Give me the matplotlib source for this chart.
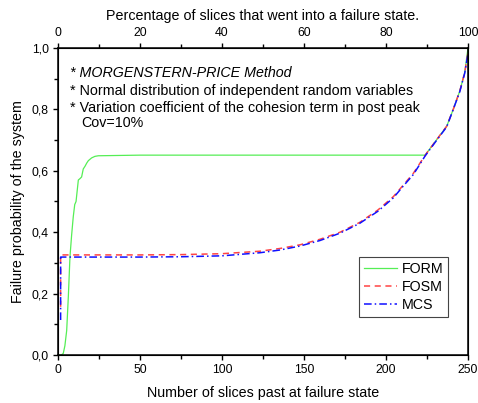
import matplotlib
matplotlib.use("Agg")
import matplotlib.pyplot as plt
from matplotlib.ticker import MultipleLocator, FuncFormatter

plt.rcParams['font.family'] = ['Liberation Sans', 'DejaVu Sans']

# ---- data ----
form_x = [0, 2, 3.2, 4.2, 5.3, 6.3, 7.3, 8.3, 9.3, 10.2, 11, 12.4, 13.5, 14.4, 15.4, 16.5, 17.5, 18.5, 20.5, 22.5, 24.6, 50, 100, 150, 200, 223.8, 230, 237, 241, 245, 248, 250]
form_y = [0.0, 0.0, 0.005, 0.03, 0.08, 0.19, 0.32, 0.39, 0.45, 0.49, 0.50, 0.57, 0.575, 0.58, 0.606, 0.615, 0.625, 0.633, 0.642, 0.647, 0.649, 0.651, 0.651, 0.651, 0.651, 0.651, 0.695, 0.745, 0.80, 0.86, 0.92, 1.0]

curve_x = [1.6, 1.6, 2.2, 10, 25, 50, 75, 100, 123, 135.4, 147.6, 159.8, 172, 184, 195, 204.5, 210, 216.7, 223.8, 230, 237, 241, 245, 248, 250]
fosm_y = [0.157, 0.325, 0.326, 0.326, 0.326, 0.326, 0.327, 0.33, 0.338, 0.347, 0.359, 0.377, 0.40, 0.432, 0.472, 0.516, 0.55, 0.592, 0.65, 0.695, 0.745, 0.80, 0.86, 0.92, 0.985]
mcs_y = [0.114, 0.319, 0.319, 0.319, 0.319, 0.319, 0.32, 0.323, 0.333, 0.342, 0.355, 0.373, 0.397, 0.429, 0.468, 0.512, 0.547, 0.588, 0.648, 0.693, 0.743, 0.80, 0.858, 0.918, 0.982]

series_labels = ["FORM", "FOSM", "MCS"]
notes = ["* MORGENSTERN-PRICE Method",
         "* Normal distribution of independent random variables",
         "* Variation coefficient of the cohesion term in post peak",
         "Cov=10%"]

fig = plt.figure(figsize=(4.78, 4.03), dpi=100)
ax = fig.add_axes([58/478, 1 - 355/403, (468-58)/478, (355-48)/403])

ax.plot(form_x, form_y, color='#55ee55', lw=0.9, label=series_labels[0])
ax.plot(curve_x, fosm_y, color='#ff4444', lw=1.1, ls=(0, (4, 3)), label=series_labels[1])
ax.plot(curve_x, mcs_y, color='#1010ff', lw=1.1, ls=(0, (5, 2, 1, 2)), label=series_labels[2])

ax.set_xlim(0, 250)
ax.set_ylim(0, 1.0)
ax.xaxis.set_major_locator(MultipleLocator(50))
ax.xaxis.set_minor_locator(MultipleLocator(25))
ax.yaxis.set_major_locator(MultipleLocator(0.2))
ax.yaxis.set_minor_locator(MultipleLocator(0.1))
ax.yaxis.set_major_formatter(FuncFormatter(lambda v, p: f"{v:.1f}".replace('.', ',')))
ax.tick_params(which='major', length=3.5, width=1, labelsize=8.8, direction='out', pad=3.2)
ax.tick_params(which='minor', length=3, width=1, direction='out')
for s in ax.spines.values():
    s.set_linewidth(1.1)

ax.set_xlabel("Number of slices past at failure state", fontsize=10.3, labelpad=7)
ax.set_ylabel("Failure probability of the system", fontsize=10.3, labelpad=5)

top = ax.twiny()
top.set_xlim(0, 100)
top.xaxis.set_major_locator(MultipleLocator(20))
top.xaxis.set_minor_locator(MultipleLocator(10))
top.tick_params(which='major', length=3.5, width=1, labelsize=8.8, direction='out', pad=3.2)
top.tick_params(which='minor', length=3, width=1, direction='out')
top.set_xlabel("Percentage of slices that went into a failure state.", fontsize=10.3, labelpad=5)

fs = 10.3
ax.text(7.5, 0.918, notes[0], fontsize=fs, style='italic', va='center')
ax.text(7.5, 0.861, notes[1], fontsize=fs, va='center')
ax.text(7.5, 0.805, notes[2], fontsize=fs, va='center')
ax.text(14, 0.756, notes[3], fontsize=fs, va='center')

leg = ax.legend(loc='lower right', bbox_to_anchor=(0.952, 0.123), fontsize=10.3,
                frameon=True, fancybox=False, edgecolor='#444444', framealpha=1,
                handlelength=2.3, handletextpad=0.3, borderpad=0.35, labelspacing=0.3,
                borderaxespad=0)
leg.get_frame().set_linewidth(0.8)

fig.savefig("out.png", dpi=100)
